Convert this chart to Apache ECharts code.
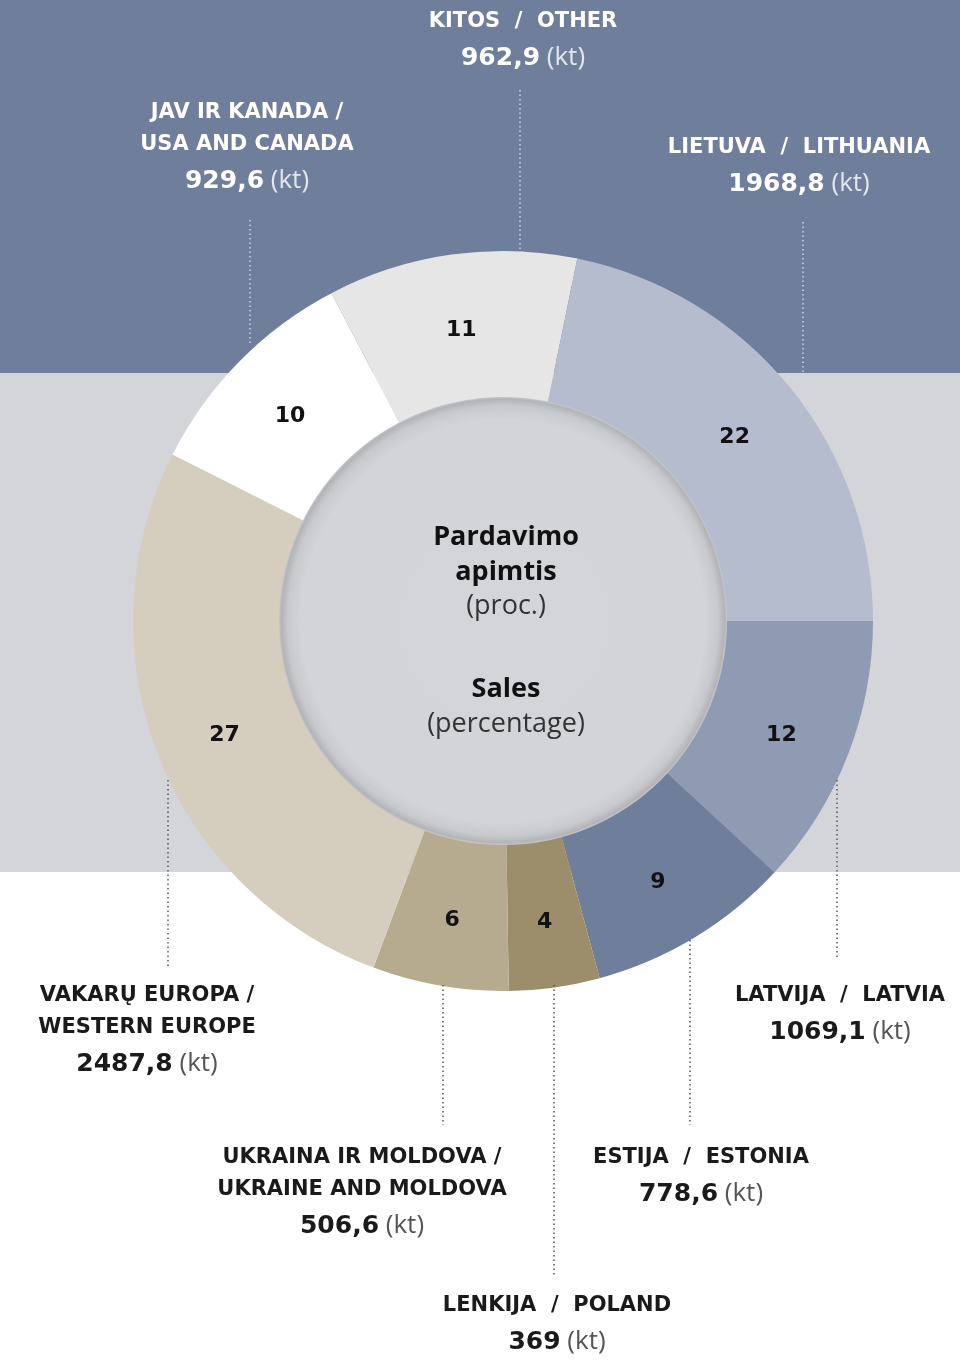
<!DOCTYPE html>
<html>
<head>
<meta charset="utf-8">
<style>
  html, body { margin: 0; padding: 0; background: #fff; }
  #chart { width: 960px; height: 1360px; }
</style>
<script src="https://cdn.jsdelivr.net/npm/echarts@6/dist/echarts.min.js"></script>
</head>
<body>
<div id="chart"></div>
<script>
// data, clockwise from 3 o'clock
const regionsLt = ['LATVIJA', 'ESTIJA', 'LENKIJA', 'UKRAINA IR MOLDOVA', 'VAKARŲ EUROPA', 'JAV IR KANADA', 'KITOS', 'LIETUVA'];
const regionsEn = ['LATVIA', 'ESTONIA', 'POLAND', 'UKRAINE AND MOLDOVA', 'WESTERN EUROPE', 'USA AND CANADA', 'OTHER', 'LITHUANIA'];
const salesKtText = ['1069,1', '778,6', '369', '506,6', '2487,8', '929,6', '962,9', '1968,8'];
const salesPercent = [12, 9, 4, 6, 27, 10, 11, 22];

const sliceColors = ['#8f9bb3', '#6f7f9b', '#9c8e6b', '#b7ab8f', '#d5cdbd', '#ffffff', '#e6e6e6', '#b4bccd'];

const cx = 503, cy = 621;
const FONT = '"Open Sans", "Noto Sans", sans-serif';
const CAPS = '"DejaVu Sans", sans-serif';

// where each outside label sits and its dotted line: [x, y of first line, twoLines, lineX, lineY1, lineY2, onDark]
const labelPlaces = [
  [840, 996, false, 837, 780, 960, false],
  [701, 1158, false, 690, 940, 1125, false],
  [557, 1306, false, 554, 985, 1275, false],
  [362, 1158, true, 443, 985, 1125, false],
  [147, 996, true, 168, 780, 968, false],
  [247, 113, true, 250, 220, 345, true],
  [523, 22, false, 520, 90, 250, true],
  [799, 148, false, 803, 222, 400, true]
];

const graphics = [
  { type: 'rect', z: -10, shape: { x: 0, y: 0, width: 960, height: 373 }, style: { fill: '#6f7f9b' } },
  { type: 'rect', z: -10, shape: { x: 0, y: 373, width: 960, height: 499 }, style: { fill: '#d3d5d8' } },
  {
    type: 'circle', z: 5, shape: { cx: cx, cy: cy, r: 224 },
    style: {
      fill: {
        type: 'radial', x: 0.5, y: 0.5, r: 0.5,
        colorStops: [
          { offset: 0, color: '#d4d5d8' },
          { offset: 0.9, color: '#d3d4d7' },
          { offset: 0.96, color: '#c8c9cc' },
          { offset: 0.99, color: '#b3b4b7' },
          { offset: 1, color: '#c6c7ca' }
        ]
      }
    }
  }
];

// centre text
const centreLines = [
  ['Pardavimo', 537, 'bold'],
  ['apimtis', 572, 'bold'],
  ['(proc.)', 606, 'normal'],
  ['Sales', 689, 'bold'],
  ['(percentage)', 724, 'normal']
];
centreLines.forEach(function (c) {
  graphics.push({
    type: 'text', z: 20,
    style: {
      text: c[0], x: 506, y: c[1], align: 'center', verticalAlign: 'middle',
      fontFamily: FONT, fontSize: 27, fontWeight: c[2],
      fill: c[2] === 'bold' ? '#111' : '#333'
    }
  });
});

// outside labels
labelPlaces.forEach(function (p, i) {
  const dark = p[6];
  const main = dark ? '#ffffff' : '#1a1a1a';
  const soft = dark ? '#e3e6ec' : '#555555';
  let head;
  let y = p[1];
  if (p[2]) {
    head = [regionsLt[i] + ' /', regionsEn[i]];
  } else {
    head = [regionsLt[i] + '  /  ' + regionsEn[i]];
  }
  head.forEach(function (t) {
    graphics.push({
      type: 'text', z: 20,
      style: {
        text: t, x: p[0], y: y, align: 'center', verticalAlign: 'middle',
        fontFamily: CAPS, fontSize: 21, fontWeight: 'bold', fill: main
      }
    });
    y += 32;
  });
  graphics.push({
    type: 'text', z: 20,
    style: {
      text: '{n|' + salesKtText[i] + '}{u| (kt)}', x: p[0], y: y + 4, align: 'center', verticalAlign: 'middle',
      rich: {
        n: { fontFamily: CAPS, fontSize: 25, fontWeight: 'bold', fill: main, color: main },
        u: { fontFamily: FONT, fontSize: 26, fontWeight: 'normal', fill: soft, color: soft }
      }
    }
  });
  graphics.push({
    type: 'line', z: 20,
    shape: { x1: p[3], y1: p[4], x2: p[3], y2: p[5] },
    style: { stroke: dark ? '#d0d5df' : '#555555', lineWidth: 1.5, lineDash: [1.5, 3] }
  });
});

const chart = echarts.init(document.getElementById('chart'));
chart.setOption({
  animation: false,
  graphic: { elements: graphics },
  series: [{
    type: 'pie',
    center: [cx, cy],
    radius: [222, 370],
    startAngle: 0,
    clockwise: true,
    silent: true,
    avoidLabelOverlap: false,
    label: {
      show: true,
      position: 'inside',
      fontFamily: CAPS,
      fontSize: 22,
      fontWeight: 'bold',
      color: '#111',
      formatter: '{c}'
    },
    labelLayout: { dy: 5 },
    labelLine: { show: false },
    itemStyle: { borderWidth: 0 },
    data: salesPercent.map(function (v, i) {
      return { name: regionsEn[i], value: v, itemStyle: { color: sliceColors[i] } };
    })
  }]
});
</script>
</body>
</html>
